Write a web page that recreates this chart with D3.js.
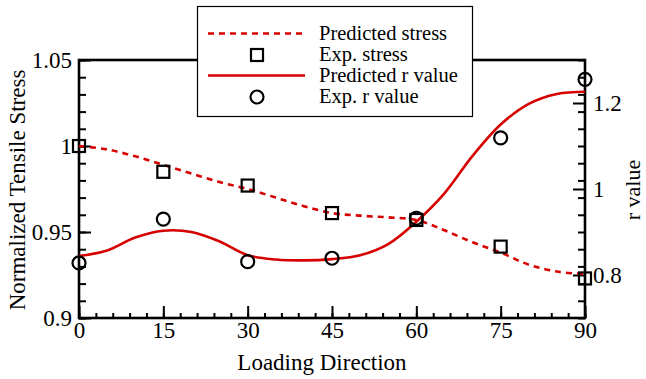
<!DOCTYPE html>
<html lang="en">
<head>
<meta charset="utf-8">
<title>Stress and r value</title>
<script src="https://d3js.org/d3.v7.min.js"></script>
<style>
  body { margin: 0; background: #fff; }
  svg text { font-family: "Liberation Serif", "Times New Roman", serif !important; fill: #000; }
</style>
</head>
<body>
<script>
// data
var angles = [0, 15, 30, 45, 60, 75, 90];
var expStress = [1.000, 0.985, 0.977, 0.961, 0.957, 0.9415, 0.923];
var expR = [0.828, 0.930, 0.831, 0.839, 0.932, 1.119, 1.255];

var predAngles = [0, 5, 10, 15, 20, 25, 30, 35, 40, 45, 50, 55, 60, 65, 70, 75, 80, 85, 90];
var predStress = [1.000, 0.998, 0.994, 0.989, 0.984, 0.979, 0.975, 0.970, 0.965, 0.961,
                  0.9595, 0.9585, 0.957, 0.951, 0.944, 0.938, 0.931, 0.927, 0.9255];
var predR = [0.844, 0.857, 0.887, 0.903, 0.900, 0.878, 0.846, 0.836, 0.834, 0.837,
             0.846, 0.872, 0.924, 0.990, 1.077, 1.150, 1.198, 1.221, 1.226];

var xTicks = [0, 15, 30, 45, 60, 75, 90];
var leftTicks = [0.9, 0.95, 1.0, 1.05];
var rightTicks = [0.8, 1.0, 1.2];

var legendItems = ["Predicted stress", "Exp. stress", "Predicted r value", "Exp. r value"];

var W = 646, H = 379;
var red = "#d60000";
var serif = "'Liberation Serif', 'Times New Roman', serif";
var plot = {left: 79, right: 585, top: 60, bottom: 318};

var svg = d3.select("body").append("svg")
    .attr("width", W)
    .attr("height", H)
    .attr("font-family", serif);

var x = d3.scaleLinear().domain([0, 90]).range([plot.left, plot.right]);
var yS = d3.scaleLinear().domain([0.9, 1.05]).range([plot.bottom, plot.top]);
var yR = d3.scaleLinear().domain([0.7, 1.3]).range([plot.bottom, plot.top]);

// axes, ticks drawn inward
function styleAxis(g) {
  g.attr("font-family", serif).attr("font-size", 23);
  g.select(".domain").remove();
  g.selectAll("line").attr("stroke", "#000").attr("stroke-width", 2);
  g.selectAll("text").attr("fill", "#000");
}

// minor ticks first
svg.append("g")
  .attr("transform", "translate(0," + plot.bottom + ")")
  .call(d3.axisBottom(x).tickValues(d3.range(0, 91, 3)).tickSize(-5).tickFormat(""))
  .call(styleAxis);
svg.append("g")
  .attr("transform", "translate(" + plot.left + ",0)")
  .call(d3.axisLeft(yS).tickValues(d3.range(90, 106, 1).map(d => d / 100)).tickSize(-7).tickFormat(""))
  .call(styleAxis);
svg.append("g")
  .attr("transform", "translate(" + plot.right + ",0)")
  .call(d3.axisRight(yR).tickValues(d3.range(70, 131, 4).map(d => d / 100)).tickSize(-7).tickFormat(""))
  .call(styleAxis);

// major ticks + labels
svg.append("g")
  .attr("transform", "translate(0," + plot.bottom + ")")
  .call(d3.axisBottom(x).tickValues(xTicks).tickSize(-12).tickPadding(4).tickFormat(d3.format("d")))
  .call(styleAxis);
svg.append("g")
  .attr("transform", "translate(" + plot.left + ",0)")
  .call(d3.axisLeft(yS).tickValues(leftTicks).tickSize(-12).tickPadding(7).tickFormat(d => String(+d.toFixed(2))))
  .call(styleAxis);
svg.append("g")
  .attr("transform", "translate(" + plot.right + ",0)")
  .call(d3.axisRight(yR).tickValues(rightTicks).tickSize(-12).tickPadding(8).tickFormat(d => String(+d.toFixed(1))))
  .call(styleAxis);

// frame
svg.append("rect")
  .attr("x", plot.left).attr("y", plot.top)
  .attr("width", plot.right - plot.left).attr("height", plot.bottom - plot.top)
  .attr("fill", "none").attr("stroke", "#000").attr("stroke-width", 2.6);

// axis titles
svg.append("text")
  .attr("x", 322).attr("y", 370)
  .attr("text-anchor", "middle")
  .attr("font-size", 23)
  .text("Loading Direction");
svg.append("text")
  .attr("transform", "translate(25,190) rotate(-90)")
  .attr("text-anchor", "middle")
  .attr("font-size", 23)
  .text("Normalized Tensile Stress");
svg.append("text")
  .attr("transform", "translate(640,190) rotate(-90)")
  .attr("text-anchor", "middle")
  .attr("font-size", 22)
  .text("r value");

// predicted curves
var stressLine = d3.line()
  .x((d, i) => x(predAngles[i]))
  .y(d => yS(d))
  .curve(d3.curveCatmullRom);
var rLine = d3.line()
  .x((d, i) => x(predAngles[i]))
  .y(d => yR(d))
  .curve(d3.curveCatmullRom);

svg.append("path")
  .attr("d", stressLine(predStress))
  .attr("fill", "none").attr("stroke", red)
  .attr("stroke-width", 2.6).attr("stroke-dasharray", "6,5");
svg.append("path")
  .attr("d", rLine(predR))
  .attr("fill", "none").attr("stroke", red)
  .attr("stroke-width", 2.6);

// experimental markers
var sq = 12;
svg.selectAll(".sq")
  .data(expStress)
  .enter().append("rect")
  .attr("class", "sq")
  .attr("x", (d, i) => x(angles[i]) - sq / 2)
  .attr("y", d => yS(d) - sq / 2)
  .attr("width", sq).attr("height", sq)
  .attr("fill", "none").attr("stroke", "#000").attr("stroke-width", 2.2);

svg.selectAll(".ci")
  .data(expR)
  .enter().append("circle")
  .attr("class", "ci")
  .attr("cx", (d, i) => x(angles[i]))
  .attr("cy", d => yR(d))
  .attr("r", 6.5)
  .attr("fill", "none").attr("stroke", "#000").attr("stroke-width", 2.2);

// legend
var lg = svg.append("g");
lg.append("rect")
  .attr("x", 197.5).attr("y", 6.5)
  .attr("width", 275).attr("height", 110)
  .attr("fill", "#fff").attr("stroke", "#000").attr("stroke-width", 1.2);

var rowY = [33.5, 55, 75.5, 97];
lg.append("line")
  .attr("x1", 208).attr("x2", 302).attr("y1", rowY[0]).attr("y2", rowY[0])
  .attr("stroke", red).attr("stroke-width", 2.6).attr("stroke-dasharray", "6,5");
lg.append("rect")
  .attr("x", 257 - sq / 2).attr("y", rowY[1] - sq / 2)
  .attr("width", sq).attr("height", sq)
  .attr("fill", "none").attr("stroke", "#000").attr("stroke-width", 2.2);
lg.append("line")
  .attr("x1", 208).attr("x2", 305).attr("y1", rowY[2]).attr("y2", rowY[2])
  .attr("stroke", red).attr("stroke-width", 2.6);
lg.append("circle")
  .attr("cx", 257).attr("cy", rowY[3]).attr("r", 6.5)
  .attr("fill", "none").attr("stroke", "#000").attr("stroke-width", 2.2);

lg.selectAll(".lt")
  .data(legendItems)
  .enter().append("text")
  .attr("class", "lt")
  .attr("x", 319)
  .attr("y", (d, i) => 39.5 + i * 21.3)
  .attr("font-size", 20.5)
  .text(d => d);
</script>
</body>
</html>
